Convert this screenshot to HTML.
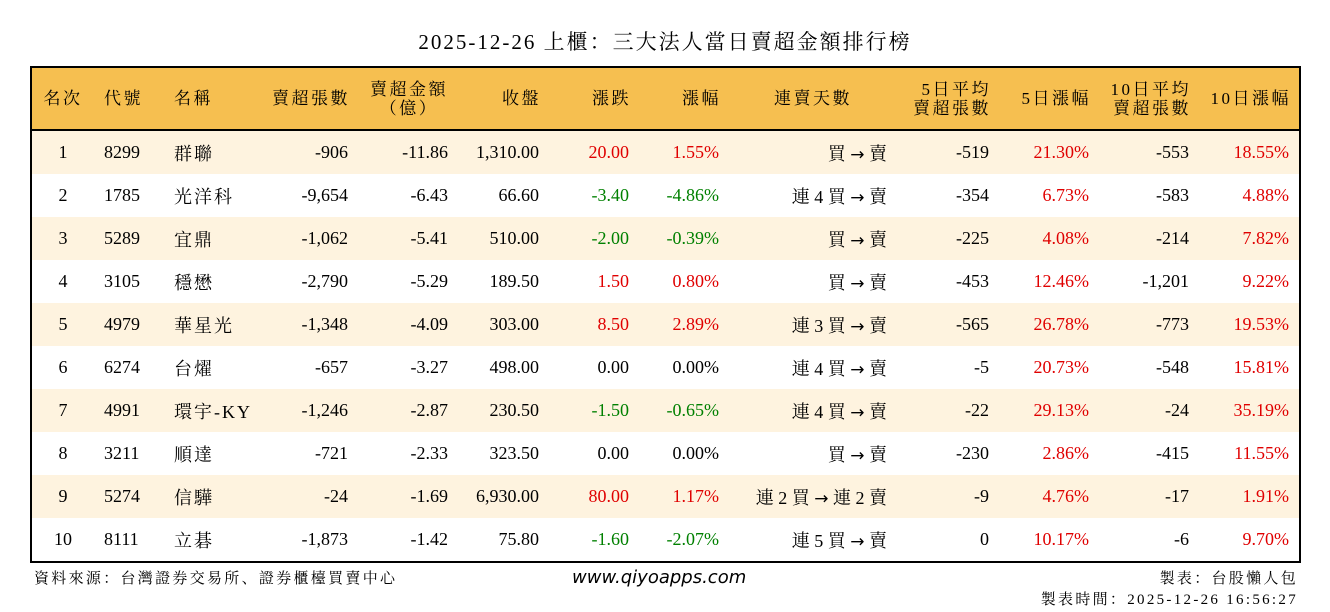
<!DOCTYPE html>
<html><head><meta charset="utf-8"><style>
body{margin:0;width:1330px;height:612px;background:#fff;position:relative;overflow:hidden;font-family:"Liberation Serif","Noto Serif CJK SC","Noto Sans CJK TC",serif;}
.title{position:absolute;top:26px;left:0;width:1330px;text-align:center;font-size:21px;color:#000;letter-spacing:2px;}
.box{position:absolute;left:30px;top:66px;border:2px solid #000;}
table{border-collapse:collapse;table-layout:fixed;font-size:18px;}
td{padding:0;height:43px;white-space:nowrap;text-align:right;padding-right:10px;}
th{height:61px;font-weight:normal;background:#F6BF50;border-bottom:2px solid #000;font-size:17px;line-height:19px;text-align:right;padding:0 8px 0 0;letter-spacing:2.5px;}
tr.o td{background:#FEF3DF;}
td.c,th.c{text-align:center;padding:0;}
td.l,th.l{text-align:left;padding-left:10px;padding-right:0;}
td.n{letter-spacing:2px;}
.r{color:#e00000;}.g{color:#008000;}
.a{font-family:"DejaVu Sans",sans-serif;font-size:17px;}
.foot{position:absolute;font-size:15px;letter-spacing:2.3px;}
</style></head><body>
<div class="title">2025-12-26 上櫃：三大法人當日賣超金額排行榜</div>
<div class="box"><table>
<colgroup><col style="width:62px"><col style="width:70px"><col style="width:94px"><col style="width:100px"><col style="width:100px"><col style="width:91px"><col style="width:90px"><col style="width:90px"><col style="width:168px"><col style="width:102px"><col style="width:100px"><col style="width:100px"><col style="width:100px"></colgroup>
<tr><th class="c">名次</th><th class="l">代號</th><th class="l">名稱</th><th>賣超張數</th><th style="text-align:center;padding-left:10px">賣超金額<br>（億）</th><th>收盤</th><th>漲跌</th><th>漲幅</th><th class="c">連賣天數</th><th>5日平均<br>賣超張數</th><th>5日漲幅</th><th>10日平均<br>賣超張數</th><th>10日漲幅</th></tr>
<tr class="o"><td class="c">1</td><td class="l">8299</td><td class="l n">群聯</td><td>-906</td><td>-11.86</td><td>1,310.00</td><td class="r">20.00</td><td class="r">1.55%</td><td>買 <span class="a">→</span> 賣</td><td>-519</td><td class="r">21.30%</td><td>-553</td><td class="r">18.55%</td></tr>
<tr><td class="c">2</td><td class="l">1785</td><td class="l n">光洋科</td><td>-9,654</td><td>-6.43</td><td>66.60</td><td class="g">-3.40</td><td class="g">-4.86%</td><td>連 4 買 <span class="a">→</span> 賣</td><td>-354</td><td class="r">6.73%</td><td>-583</td><td class="r">4.88%</td></tr>
<tr class="o"><td class="c">3</td><td class="l">5289</td><td class="l n">宜鼎</td><td>-1,062</td><td>-5.41</td><td>510.00</td><td class="g">-2.00</td><td class="g">-0.39%</td><td>買 <span class="a">→</span> 賣</td><td>-225</td><td class="r">4.08%</td><td>-214</td><td class="r">7.82%</td></tr>
<tr><td class="c">4</td><td class="l">3105</td><td class="l n">穩懋</td><td>-2,790</td><td>-5.29</td><td>189.50</td><td class="r">1.50</td><td class="r">0.80%</td><td>買 <span class="a">→</span> 賣</td><td>-453</td><td class="r">12.46%</td><td>-1,201</td><td class="r">9.22%</td></tr>
<tr class="o"><td class="c">5</td><td class="l">4979</td><td class="l n">華星光</td><td>-1,348</td><td>-4.09</td><td>303.00</td><td class="r">8.50</td><td class="r">2.89%</td><td>連 3 買 <span class="a">→</span> 賣</td><td>-565</td><td class="r">26.78%</td><td>-773</td><td class="r">19.53%</td></tr>
<tr><td class="c">6</td><td class="l">6274</td><td class="l n">台燿</td><td>-657</td><td>-3.27</td><td>498.00</td><td>0.00</td><td>0.00%</td><td>連 4 買 <span class="a">→</span> 賣</td><td>-5</td><td class="r">20.73%</td><td>-548</td><td class="r">15.81%</td></tr>
<tr class="o"><td class="c">7</td><td class="l">4991</td><td class="l n">環宇-KY</td><td>-1,246</td><td>-2.87</td><td>230.50</td><td class="g">-1.50</td><td class="g">-0.65%</td><td>連 4 買 <span class="a">→</span> 賣</td><td>-22</td><td class="r">29.13%</td><td>-24</td><td class="r">35.19%</td></tr>
<tr><td class="c">8</td><td class="l">3211</td><td class="l n">順達</td><td>-721</td><td>-2.33</td><td>323.50</td><td>0.00</td><td>0.00%</td><td>買 <span class="a">→</span> 賣</td><td>-230</td><td class="r">2.86%</td><td>-415</td><td class="r">11.55%</td></tr>
<tr class="o"><td class="c">9</td><td class="l">5274</td><td class="l n">信驊</td><td>-24</td><td>-1.69</td><td>6,930.00</td><td class="r">80.00</td><td class="r">1.17%</td><td>連 2 買 <span class="a">→</span> 連 2 賣</td><td>-9</td><td class="r">4.76%</td><td>-17</td><td class="r">1.91%</td></tr>
<tr><td class="c">10</td><td class="l">8111</td><td class="l n">立碁</td><td>-1,873</td><td>-1.42</td><td>75.80</td><td class="g">-1.60</td><td class="g">-2.07%</td><td>連 5 買 <span class="a">→</span> 賣</td><td>0</td><td class="r">10.17%</td><td>-6</td><td class="r">9.70%</td></tr>
</table></div>
<div class="foot" style="left:34px;top:567px;">資料來源：台灣證券交易所、證券櫃檯買賣中心</div>
<div class="foot" style="left:572px;top:567px;font-family:'DejaVu Sans',sans-serif;font-style:italic;font-size:18px;letter-spacing:0;">www.qiyoapps.com</div>
<div class="foot" style="right:32px;top:567px;">製表：台股懶人包</div>
<div class="foot" style="right:32px;top:588px;">製表時間：2025-12-26 16:56:27</div>
</body></html>
